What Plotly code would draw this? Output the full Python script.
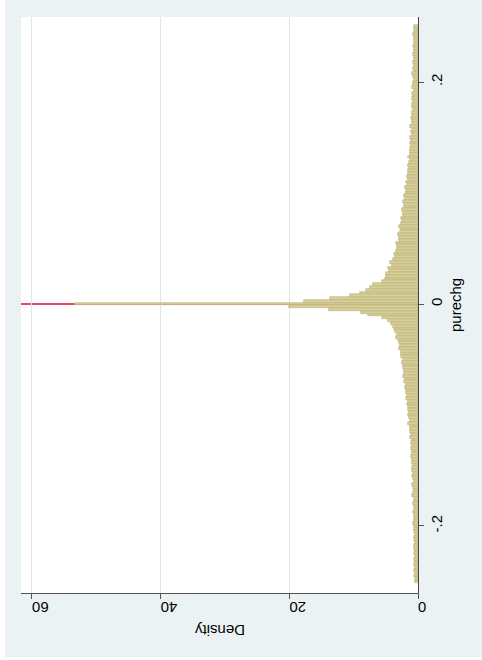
import plotly.graph_objects as go

# ---- data ----
bin_width = 0.0025
density_zero = 53.3
# densities for bins at +1*w, +2*w, ... +100*w
density_pos = [
    17.7, 13.7, 10.5, 9.0, 8.1, 7.4, 7.0, 5.6, 5.2, 5.0,
    4.9, 4.5, 4.6, 4.1, 4.3, 3.9, 3.6, 3.8, 3.4, 3.3,
    3.2, 3.4, 3.0, 2.9, 3.1, 2.8, 2.7, 2.9, 2.6, 2.5,
    2.6, 2.4, 2.3, 2.5, 2.2, 2.1, 2.3, 2.0, 2.1, 1.9,
    1.8, 2.0, 1.7, 1.8, 1.6, 1.7, 1.5, 1.6, 1.4, 1.5,
    1.4, 1.3, 1.5, 1.2, 1.3, 1.2, 1.1, 1.3, 1.1, 1.2,
    1.0, 1.1, 1.0, 1.2, 0.9, 1.0, 1.1, 0.9, 1.0, 0.8,
    0.9, 1.0, 0.8, 0.9, 0.8, 1.0, 0.7, 0.9, 0.8, 0.8,
    0.7, 0.8, 0.9, 0.7, 0.8, 0.6, 0.8, 0.7, 0.7, 0.8,
    0.6, 0.7, 0.8, 0.6, 0.7, 0.6, 0.8, 0.6, 0.7, 0.6,
]
# densities for bins at -1*w, -2*w, ... -100*w
density_neg = [
    20.0, 13.8, 8.8, 7.7, 5.6, 4.7, 4.2, 3.9, 3.7, 3.5,
    3.3, 3.4, 3.1, 3.0, 2.8, 2.9, 2.7, 2.6, 2.7, 2.4,
    2.5, 2.3, 2.4, 2.2, 2.1, 2.3, 2.0, 2.1, 1.9, 2.0,
    1.8, 1.9, 1.7, 1.8, 1.6, 1.7, 1.5, 1.6, 1.4, 1.5,
    1.4, 1.3, 1.5, 1.2, 1.3, 1.2, 1.1, 1.3, 1.0, 1.1,
    1.0, 1.1, 0.9, 1.0, 1.1, 0.9, 1.0, 0.8, 0.9, 1.0,
    0.8, 0.9, 0.8, 0.7, 0.9, 0.8, 0.7, 0.8, 0.9, 0.7,
    0.7, 0.8, 0.6, 0.7, 0.8, 0.6, 0.7, 0.6, 0.8, 0.6,
    0.6, 0.7, 0.5, 0.6, 0.7, 0.5, 0.6, 0.7, 0.5, 0.6,
    0.5, 0.6, 0.5, 0.7, 0.5, 0.6, 0.4, 0.6, 0.5, 0.5,
]
x_tickvals = [-0.2, 0, 0.2]
x_ticktext = ["-.2", "0", ".2"]
y_tickvals = [0, 20, 40, 60]
y_ticktext = ["0", "20", "40", "60"]
xline_at = 0

# ---- build ----
centers = ([-(i + 1) * bin_width for i in range(len(density_neg))][::-1]
           + [0.0]
           + [(i + 1) * bin_width for i in range(len(density_pos))])
dens = density_neg[::-1] + [density_zero] + density_pos

BG = "#EAF2F3"
GRID = "#DDE7E9"
FONT = "Liberation Sans, Arial, sans-serif"
FS = 15

W, H = 482, 660
L, R, T, B = 21, 64, 17, 67
pw, ph = W - L - R, H - T - B

def px(xpix):
    return (xpix - L) / pw

def py(ypix):
    return (H - B - ypix) / ph

fig = go.Figure()
fig.add_trace(go.Bar(
    x=dens, y=centers, orientation="h",
    width=bin_width,
    marker=dict(color="#D7CF98", line=dict(color="#B9AF74", width=0.6)),
    hoverinfo="skip",
))

fig.update_layout(
    width=W, height=H,
    margin=dict(l=L, r=R, t=T, b=B, pad=0),
    paper_bgcolor="white",
    plot_bgcolor="white",
    showlegend=False,
    bargap=0,
    font=dict(family=FONT, size=FS, color="black"),
    xaxis=dict(
        range=[61.7, 0],
        tickvals=y_tickvals, ticktext=y_ticktext,
        tickangle=180,
        ticks="outside", ticklen=5, tickcolor="#555555", tickwidth=1,
        showgrid=True, gridcolor=GRID, gridwidth=1,
        zeroline=False,
        showline=True, linecolor="#555555", linewidth=1,
        tickfont=dict(size=FS, family=FONT),
    ),
    yaxis=dict(
        range=[-0.2604, 0.2586],
        side="right",
        tickvals=x_tickvals, ticktext=x_ticktext,
        tickangle=-90,
        ticks="outside", ticklen=5, tickcolor="#555555", tickwidth=1,
        showgrid=False, zeroline=False,
        showline=True, linecolor="#444444", linewidth=1,
        tickfont=dict(size=FS, family=FONT),
    ),
    shapes=[
        dict(type="rect", xref="paper", yref="paper",
             x0=px(5), x1=px(W + 5), y0=py(657), y1=py(-5),
             fillcolor=BG, line=dict(width=0), layer="below"),
        dict(type="rect", xref="paper", yref="paper",
             x0=0, x1=1, y0=0, y1=1,
             fillcolor="white", line=dict(width=0), layer="below"),
        dict(type="line", xref="x", yref="y",
             x0=0, x1=61.7, y0=xline_at, y1=xline_at,
             line=dict(color="#D80F3A", width=1.4), layer="below"),
    ],
    annotations=[
        dict(text="Density", textangle=180, showarrow=False,
             xref="paper", yref="paper", x=0.5, y=py(631),
             xanchor="center", yanchor="middle",
             font=dict(size=FS, family=FONT)),
        dict(text="purechg", textangle=-90, showarrow=False,
             xref="paper", yref="paper", x=px(455), y=0.5,
             xanchor="center", yanchor="middle",
             font=dict(size=FS, family=FONT)),
    ],
)

fig.write_html(
    "out.html",
    config={"displayModeBar": False},
    post_script="document.body.style.margin='0px';document.body.style.overflow='hidden';",
)
